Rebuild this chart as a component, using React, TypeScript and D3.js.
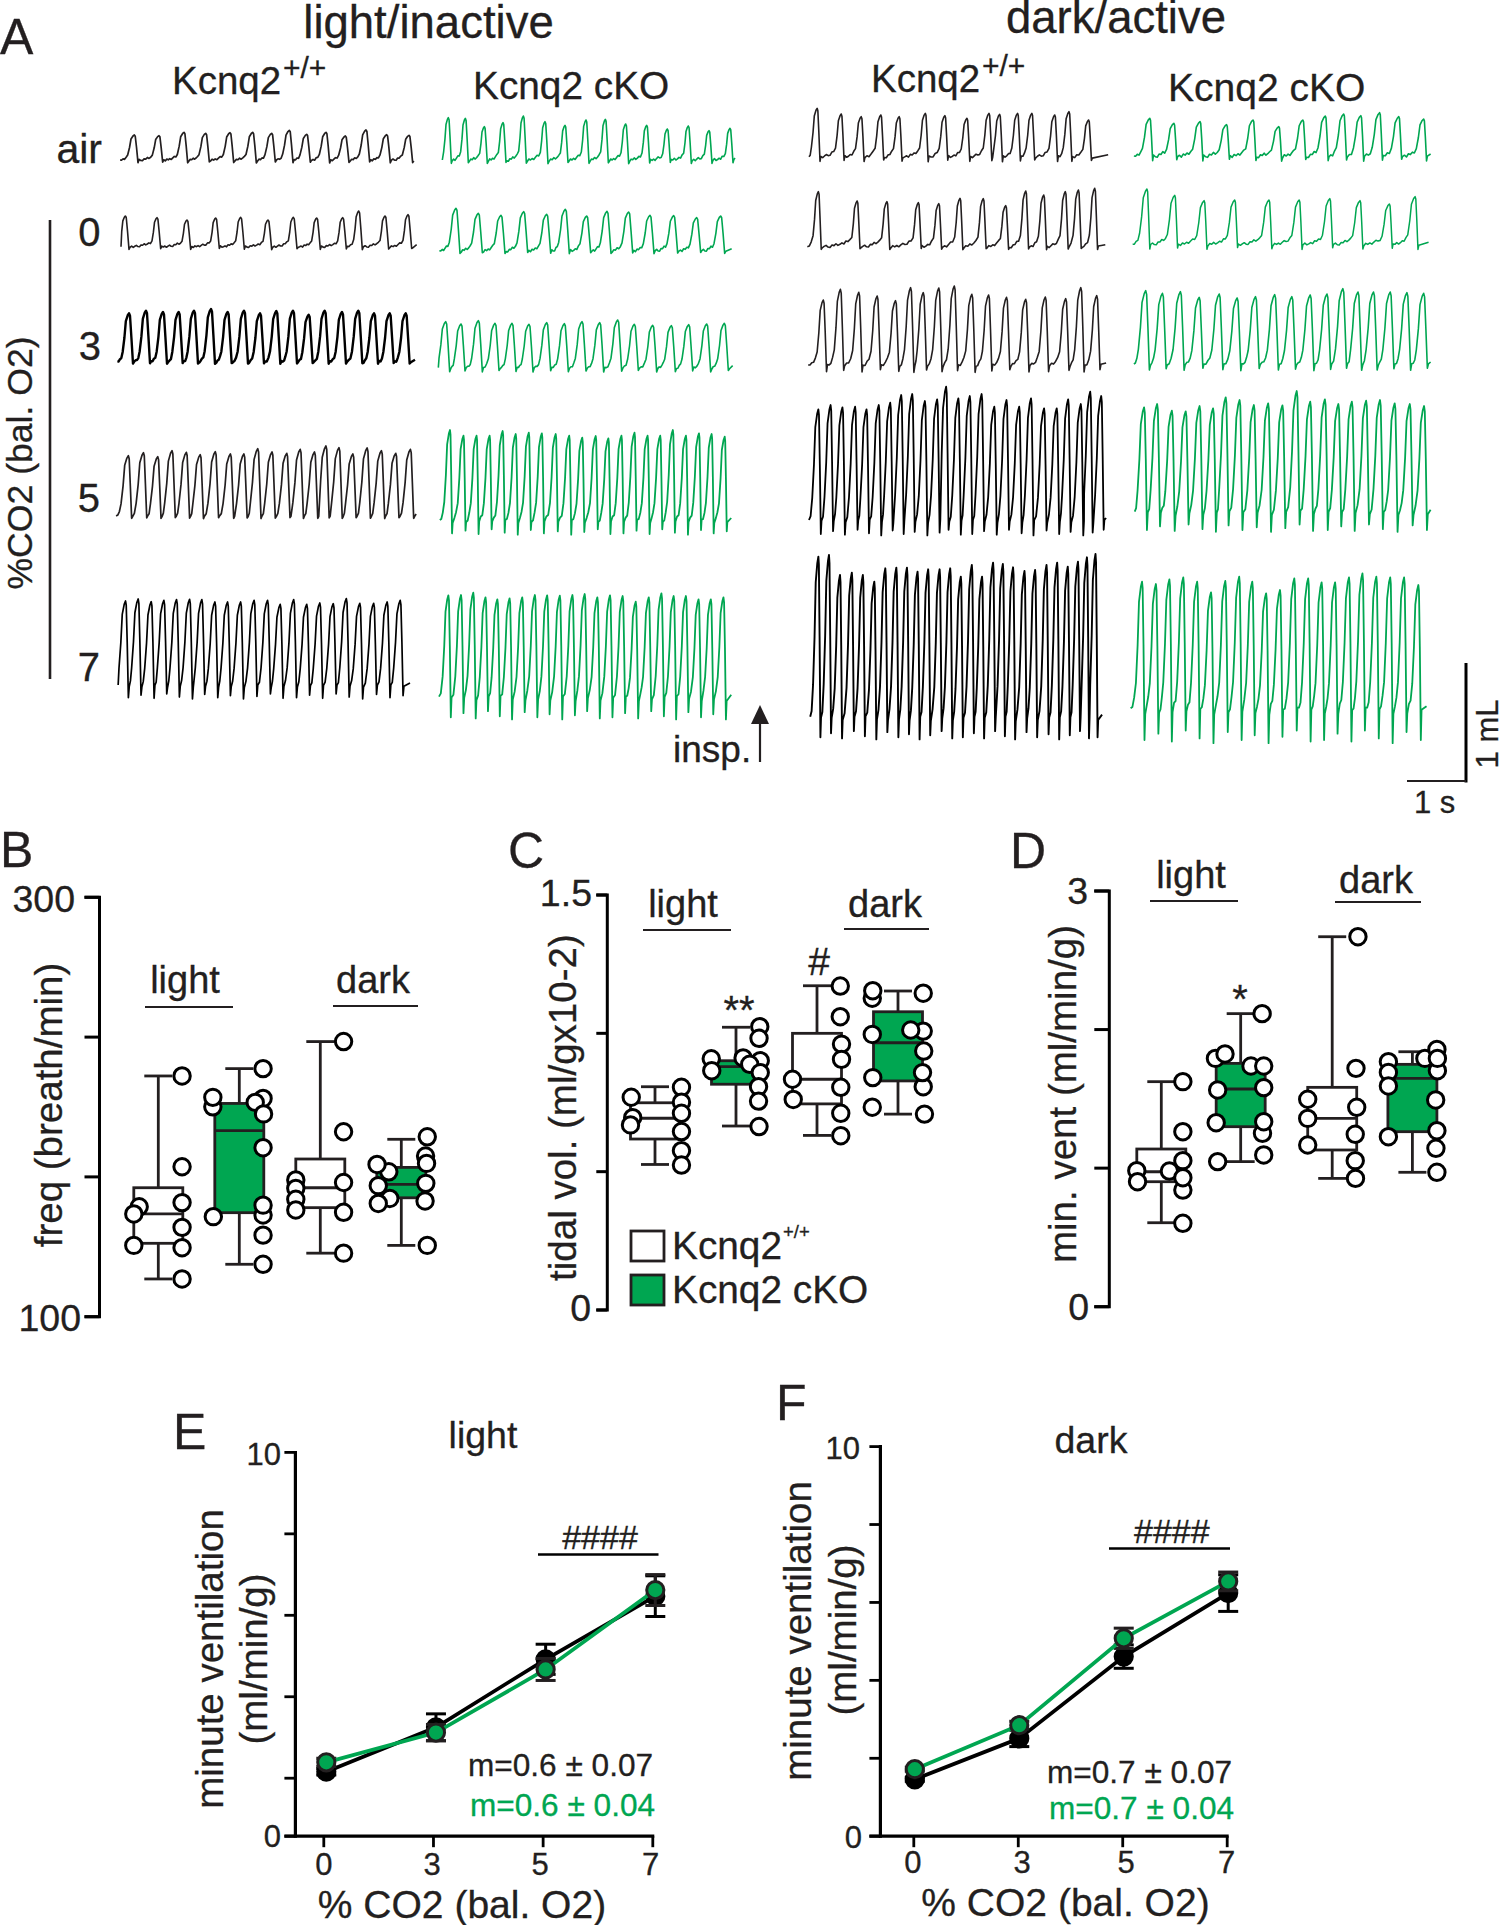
import React from 'react';
import * as d3 from 'd3';

const INK = '#231F20';
const GREEN = '#00A651';
const FONT = '"Liberation Sans", Arial, sans-serif';

/* ---------- Panel A: breathing traces, peak times and peak levels ---------- */
const lwAirT = [73,147,222,287,360,428,485,538,590,648,706,768,830,897];
const lwAirY = [105,107,97,100,98,97,100,91,103,97,108,90,104,106];
const lw0T = [46,141,231,317,392,474,550,620,698,746,825,894];
const lw0Y = [348,353,360,354,352,360,352,354,353,333,348,344];
const lw3T = [57,108,159,206,252,303,353,402,450,499,549,596,644,696,745,792,839,887];
const lw3Y = [640,632,636,636,632,627,636,632,640,633,632,644,632,636,632,640,640,640];
const lkAirT = [55,106,163,219,280,345,405,468,526,587,650,712,775,837,900];
const lkAirY = [53,55,80,68,48,65,76,60,58,72,76,87,78,92,85];
const lk0T = [78,145,213,281,350,406,470,531,596,660,731,800,872];
const lk0Y = [325,340,346,335,343,328,348,334,336,346,347,353,348];
const lk3T = [47,93,145,195,246,297,350,403,456,509,563,613,668,724,776,830,883];
const lk3Y = [665,672,662,670,670,673,668,671,665,668,660,673,676,677,674,672,670];
const lw5T = [45,82,117,152,187,221,258,295,328,362,397,433,466,501,529,561,595,630,665,700,736];
const lw5Y = [107,98,110,92,97,104,95,102,102,86,96,100,88,96,78,83,102,84,92,100,88];
const lk5T = [833,866,898,930,962,994,1026,1058,1092,1125,1157,1190,1221,1253,1285,1317,1348,1379,1411,1443,1474,1506];
const lk5Y = [30,47,47,47,33,42,38,40,42,47,53,48,55,47,38,47,47,30,47,40,42,50];
const lw7T = [38,69,101,132,163,195,225,257,288,320,353,386,417,450,482,514,547,579,612,646,679,711];
const lw7Y = [543,537,545,541,539,538,539,546,546,546,541,541,553,539,553,549,551,536,550,550,546,541];
const lk7T = [829,860,890,920,949,979,1010,1041,1071,1102,1133,1163,1194,1225,1256,1288,1320,1351,1381,1411,1442,1472,1503];
const lk7Y = [526,525,518,532,538,535,532,525,526,527,525,522,532,526,528,545,532,520,528,528,538,538,532];
const dwAirT = [42,101,150,198,243,307,355,409,463,489,533,568,624,659,707];
const dwAirY = [55,72,80,75,80,70,77,85,70,73,70,70,75,65,90];
const dkAirT = [857,916,980,1045,1110,1173,1232,1287,1332,1374,1420,1467,1528];
const dkAirY = [85,100,95,104,90,110,90,78,72,77,68,80,87];
const dw0T = [45,140,213,290,340,392,449,504,553,597,650,682,722];
const dw0Y = [305,333,335,338,341,325,326,347,303,315,305,300,295];
const dk0T = [850,918,990,1065,1149,1223,1298,1372,1444,1507];
const dk0Y = [297,316,332,330,330,330,326,332,342,320];
const dw3T = [57,99,144,189,234,271,302,340,378,421,462,506,553,601,651,688,727];
const dw3Y = [630,598,607,618,632,593,608,594,588,613,615,622,628,621,626,593,617];
const dk3T = [847,888,932,978,1027,1071,1116,1163,1205,1250,1291,1330,1367,1405,1446,1487,1528];
const dk3Y = [602,610,605,622,612,624,620,614,620,615,612,596,606,606,606,608,610];
const dw5T = [45,75,104,135,163,193,221,248,275,306,336,358,388,416,445,476,506,537,566,598,629,657,688,711,738];
const dw5Y = [88,75,82,80,88,75,68,45,42,63,58,20,55,48,42,80,60,80,55,85,85,58,72,35,48];
const dk5T = [843,875,911,945,979,1012,1043,1077,1112,1147,1182,1217,1250,1286,1319,1352,1387,1421,1457,1494,1529];
const dk5Y = [82,72,92,94,78,85,52,60,75,70,76,33,65,58,72,65,62,60,70,72,78];
const dw7T = [45,71,98,127,154,182,209,236,262,288,314,342,368,394,421,446,473,497,522,550,576,604,630,656,681,703,724];
const dw7Y = [530,525,585,578,585,605,565,563,563,575,568,568,565,590,555,590,548,552,562,573,570,555,548,560,545,532,522];
const dk7T = [838,872,905,939,973,1007,1042,1076,1108,1142,1176,1211,1245,1278,1311,1345,1378,1412,1446,1480,1515];
const dk7Y = [605,612,598,592,605,637,603,590,605,640,630,595,595,607,607,592,580,590,592,592,615];

// small wobble of the resting part of each breath
const ripple = [0.3,-0.5,0.8,-0.2,-0.9,0.5,1,-0.6,0.1,-1,0.6,0.2,-0.4,0.9,-0.7];
// variation of expiratory spike depth from breath to breath
const spikeScale = [1,0.8,1.05,0.7,0.95,1.1,0.75,1,0.85,1.1,0.9,0.7,1.05];

const frames: any = {
  lw: { x: 110, y: 100, w: 320, h: 310, sx: 3, sy: 3 },
  lk: { x: 430, y: 100, w: 320, h: 310, sx: 3, sy: 3 },
  ll: { x: 110, y: 420, w: 640, h: 360, sx: 2.45, sy: 3 },
  du: { x: 800, y: 90, w: 640, h: 300, sx: 2.45, sy: 3 },
  dl: { x: 800, y: 380, w: 640, h: 380, sx: 2.45, sy: 3 },
};

// f, T, Y, start, end, base, spike, rise, fall, wobble, colour, width
const traceRows: any[] = [
  ['lw', lwAirT, lwAirY, 30, 910, 180, 8, 20, 11, 3, INK, 1.7],
  ['lw', lw0T, lw0Y, 33, 920, 440, 8, 15, 11, 3, INK, 1.6],
  ['lw', lw3T, lw3Y, 22, 915, 785, 6, 19, 12, 3, '#000', 2.4],
  ['lk', lkAirT, lkAirY, 37, 915, 180, 10, 14, 9, 4, GREEN, 1.6],
  ['lk', lk0T, lk0Y, 28, 905, 452, 8, 20, 12, 4, GREEN, 1.6],
  ['lk', lk3T, lk3Y, 25, 908, 803, 12, 20, 12, 3, GREEN, 1.6],
  ['ll', lw5T, lw5Y, 15, 750, 288, 7, 18, 8, 1, INK, 1.7],
  ['ll', lk5T, lk5Y, 808, 1522, 300, 40, 14, 5, 6, GREEN, 1.8],
  ['ll', lw7T, lw7Y, 20, 735, 795, 38, 16, 7, 4, '#000', 1.7],
  ['ll', lk7T, lk7Y, 806, 1522, 830, 62, 14, 6, 8, GREEN, 1.8],
  ['du', dwAirT, dwAirY, 22, 755, 200, 14, 14, 7, 4, INK, 1.6],
  ['du', dkAirT, dkAirY, 818, 1545, 198, 14, 18, 7, 5, GREEN, 1.6],
  ['du', dw0T, dw0Y, 18, 748, 470, 8, 13, 7, 4, INK, 1.6],
  ['du', dk0T, dk0Y, 815, 1540, 463, 14, 18, 7, 4, GREEN, 1.5],
  ['du', dw3T, dw3Y, 20, 750, 825, 20, 15, 8, 4, INK, 1.6],
  ['du', dk3T, dk3Y, 818, 1545, 822, 18, 18, 9, 3, GREEN, 1.6],
  ['dl', dw5T, dw5Y, 22, 750, 420, 42, 15, 6, 5, '#000', 1.8],
  ['dl', dk5T, dk5Y, 820, 1545, 395, 55, 16, 7, 7, GREEN, 1.8],
  ['dl', dw7T, dw7Y, 25, 740, 1010, 62, 13, 5, 7, '#000', 1.9],
  ['dl', dk7T, dk7Y, 810, 1535, 985, 95, 15, 6, 10, GREEN, 1.8],
];

function breathPoints(T: number[], Y: number[], start: number, end: number, base: number, spike: number, rise: number, fall: number, wob: number) {
  const pts: [number, number][] = [];
  const push = (t: number, y: number) => {
    if (!pts.length || t > pts[pts.length - 1][0]) pts.push([t, y]);
  };
  push(start, base);
  let rk = 0;
  T.forEach((t, i) => {
    const amp = base - Y[i];
    const from = pts[pts.length - 1][0];
    const to = t - rise;
    const steps = Math.max(0, Math.floor((to - from) / 5));
    for (let j = 1; j <= steps; j++) {
      const f = j / (steps + 1);
      push(from + (to - from) * f, base - amp * 0.16 * f * f + ripple[rk++ % ripple.length] * wob);
    }
    push(to, base - amp * 0.2);
    push(t - rise * 0.72, base - amp * 0.5);
    push(t - rise * 0.5, base - amp * 0.84);
    push(t - rise * 0.2, base - amp * 0.96);
    push(t, Y[i]);
    push(t + fall * 0.25, Y[i] + amp * 0.05);
    push(t + fall * 0.6, base - amp * 0.5);
    const s = spike * spikeScale[i % spikeScale.length];
    push(t + fall, base + s);
    push(t + fall * 1.3, base + s * 0.1 + ripple[rk++ % ripple.length] * wob);
  });
  push(end, base - 6);
  return pts;
}

/* ---------- Panels B, C, D: box statistics [min, q1, median, q3, max] and dots [side, value] ---------- */
const freqStats = [
  [118, 135, 149, 161.5, 214.8],
  [125, 149.6, 188.7, 201.7, 218.3],
  [130.3, 152, 161.5, 175.2, 231.2],
  [134, 156.7, 163.1, 171.2, 184.6],
];
const freqDots: [number, number][][] = [
  [[-0.78,152.4],[-1,149],[-1,134],[0.97,214.8],[0.97,171.5],[0.97,154.4],[0.97,142.6],[0.97,132.9],[0.97,118]],
  [[-1.08,200.1],[-1.08,204.6],[-1.06,147.7],[0.97,204.1],[0.65,202.2],[0.99,196.7],[0.97,180.6],[0.97,148.5],[0.97,153.2],[0.97,138.9],[0.97,125],[0.97,218.3]],
  [[-1,165.2],[-1,161.2],[-1,156],[-1,150.9],[0.95,231.2],[0.95,188.2],[0.95,164],[0.95,149.8],[0.95,130.3]],
  [[-0.51,169.1],[-0.99,172.6],[-0.47,156.4],[-0.94,162.5],[-0.94,154],[0.99,176.6],[1.06,185.8],[1.03,173.1],[1,163.6],[0.97,155.2],[1.06,134]],
];
const tidalStats = [
  [0.526, 0.618, 0.693, 0.749, 0.807],
  [0.665, 0.816, 0.88, 0.901, 1.022],
  [0.631, 0.745, 0.834, 1.0, 1.172],
  [0.708, 0.828, 0.966, 1.078, 1.153],
];
const tidalDots: [number, number][][] = [
  [[-0.91,0.695],[-0.97,0.769],[-1,0.669],[1.08,0.805],[1.08,0.751],[1.08,0.711],[1.08,0.645],[1.08,0.576],[1.08,0.524]],
  [[-1.01,0.908],[-0.99,0.865],[0.29,0.911],[0.99,0.901],[0.56,0.888],[0.97,1.024],[0.94,0.982],[0.99,0.858],[0.92,0.807],[0.92,0.755],[0.94,0.663]],
  [[-1,0.834],[-0.97,0.761],[0.95,1.171],[0.95,1.06],[1,0.961],[1,0.906],[0.97,0.805],[0.97,0.711],[0.97,0.63]],
  [[-1.05,1.127],[-1.03,1.154],[-1.05,0.996],[-1.03,0.84],[-1.05,0.733],[1.03,1.008],[0.52,1.012],[1.03,1.145],[1.05,0.936],[1.03,0.807],[1,0.858],[1.08,0.708]],
];
const ventStats = [
  [0.606, 0.902, 0.974, 1.138, 1.624],
  [1.047, 1.299, 1.571, 1.756, 2.115],
  [0.926, 1.131, 1.359, 1.583, 2.67],
  [0.97, 1.263, 1.648, 1.749, 1.84],
];
const ventDots: [number, number][][] = [
  [[-1,0.982],[-0.97,0.902],[0.33,0.979],[0.88,1.624],[0.88,1.263],[0.88,0.842],[0.88,1.054],[0.88,0.931],[0.88,0.602]],
  [[-1.03,1.792],[-0.64,1.824],[0.42,1.737],[0.94,1.737],[-0.94,1.564],[0.94,1.581],[0.89,1.251],[-1,1.328],[0.94,1.335],[0.94,1.095],[-0.94,1.047],[0.875,2.115]],
  [[-1,1.497],[-1,1.359],[-1,1.167],[1.05,2.67],[0.97,1.72],[1,1.439],[0.94,1.244],[0.94,1.054],[0.95,0.926]],
  [[-0.98,1.768],[-0.98,1.691],[-0.98,1.593],[-0.98,1.227],[0.51,1.792],[1,1.857],[1.02,1.703],[1.02,1.792],[0.95,1.492],[1,1.27],[0.96,1.143],[1,0.97]],
];
const boxFills = ['#fff', GREEN, '#fff', GREEN];
const evenGroups = [0, 1, 2, 3];
const ventGroups = [0, 0.98, 2.11, 3.1];
const freqTicks = [100, 166.67, 233.33, 300];
const tidalTicks = [0, 0.5, 1, 1.5];
const ventTicks = [0, 1, 2, 3];

/* ---------- Panels E, F: means and error bars ---------- */
const co2Levels = ['0', '3', '5', '7'];
const lightWtMean = [2.16, 3.25, 4.92, 6.47];
const lightWtErr = [0.08, 0.33, 0.37, 0.5];
const lightKoMean = [2.39, 3.12, 4.67, 6.62];
const lightKoErr = [0.1, 0.2, 0.27, 0.38];
const darkWtMean = [1.46, 2.51, 4.61, 6.24];
const darkWtErr = [0.05, 0.21, 0.3, 0.47];
const darkKoMean = [1.72, 2.85, 5.08, 6.54];
const darkKoErr = [0.05, 0.1, 0.26, 0.24];
const ventTicksLine = [0, 2, 4, 6, 8, 10];

const T = ({ x, y, s = 38, a = 'start', c = INK, children }: any) => (
  <text x={x} y={y} fontSize={s} textAnchor={a} fill={c} stroke={c} strokeWidth={0.3} fontFamily={FONT}>{children}</text>
);
const V = ({ x, y, s = 38.5, children }: any) => (
  <text transform={`translate(${x},${y}) rotate(-90)`} fontSize={s} textAnchor="middle" fill={INK} stroke={INK} strokeWidth={0.3} fontFamily={FONT}>{children}</text>
);
const L = ({ x1, y1, x2, y2, w = 2.4, c = INK }: any) => (
  <line x1={x1} y1={y1} x2={x2} y2={y2} stroke={c} strokeWidth={w} />
);

function Traces() {
  return (
    <g fill="none" strokeLinejoin="round">
      {traceRows.map((r, i) => {
        const [f, tt, yy, start, end, base, spike, rise, fall, wob, colour, width] = r;
        const fr = frames[f];
        const sx = d3.scaleLinear().domain([0, fr.w * fr.sx]).range([fr.x, fr.x + fr.w]);
        const sy = d3.scaleLinear().domain([0, fr.h * fr.sy]).range([fr.y, fr.y + fr.h]);
        const line = d3.line<[number, number]>().x((d) => sx(d[0])).y((d) => sy(d[1]));
        return <path key={i} d={line(breathPoints(tt, yy, start, end, base, spike, rise, fall, wob)) || ''} stroke={colour} strokeWidth={width} />;
      })}
    </g>
  );
}

function BoxPanel({ stats, dots, groups, axisX, top, bottom, domain, ticks, x0, tickLen }: any) {
  const y = d3.scaleLinear().domain(domain).range([bottom, top]);
  const gx = d3.scaleLinear().domain([0, 3]).range([x0, x0 + 243]);
  const side = d3.scaleLinear().domain([-1, 1]).range([-24.5, 24.5]);
  return (
    <g>
      <path d={`M${axisX - tickLen},${top}H${axisX}V${bottom}H${axisX - tickLen}`} fill="none" stroke="#000" strokeWidth={3} />
      {ticks.map((t: number) => <L key={t} x1={axisX - tickLen} x2={axisX} y1={y(t)} y2={y(t)} w={3} c="#000" />)}
      {stats.map((s: number[], i: number) => {
        const cx = gx(groups[i]);
        return (
          <g key={i} stroke={INK} strokeWidth={2.8}>
            <line x1={cx} x2={cx} y1={y(s[4])} y2={y(s[0])} />
            <line x1={cx - 14} x2={cx + 14} y1={y(s[4])} y2={y(s[4])} />
            <line x1={cx - 14} x2={cx + 14} y1={y(s[0])} y2={y(s[0])} />
            <rect x={cx - 24.5} width={49} y={y(s[3])} height={y(s[1]) - y(s[3])} fill={boxFills[i]} />
            <line x1={cx - 24.5} x2={cx + 24.5} y1={y(s[2])} y2={y(s[2])} />
          </g>
        );
      })}
      {dots.map((g: [number, number][], i: number) => g.map((d, j) => (
        <circle key={`${i}-${j}`} cx={gx(groups[i]) + side(d[0])} cy={y(d[1])} r={8.2} fill="#fff" stroke="#000" strokeWidth={3} />
      )))}
    </g>
  );
}

function LinePanel({ axisX, top, bottom, yScale, xr, wt, wtE, ko, koE, shift }: any) {
  const x = d3.scalePoint().domain(co2Levels).range(xr);
  const px = (i: number) => (x(co2Levels[i]) as number) + shift;
  const line = d3.line<number>().x((_, i) => px(i)).y((d) => yScale(d));
  const series = [
    { m: wt, e: wtE, c: '#000', dot: '#000' },
    { m: ko, e: koE, c: GREEN, dot: GREEN },
  ];
  return (
    <g>
      <L x1={axisX} x2={axisX} y1={top - 1.5} y2={bottom + 1.5} w={3.2} c="#000" />
      <L x1={axisX - 11} x2={xr[1] + 1.5} y1={bottom} y2={bottom} w={3.2} c="#000" />
      {ventTicksLine.map((t) => <L key={t} x1={axisX - 11} x2={axisX} y1={yScale(t)} y2={yScale(t)} w={2.8} c="#000" />)}
      {co2Levels.map((c) => <L key={c} x1={x(c)} x2={x(c)} y1={bottom} y2={bottom + 11} w={2.8} c="#000" />)}
      {series.map((s, k) => (
        <g key={k}>
          {s.m.map((v: number, i: number) => (
            <g key={i} stroke={k ? INK : '#000'} strokeWidth={3}>
              <line x1={px(i)} x2={px(i)} y1={yScale(v + s.e[i])} y2={yScale(v - s.e[i])} />
              <line x1={px(i) - 10} x2={px(i) + 10} y1={yScale(v + s.e[i])} y2={yScale(v + s.e[i])} />
              <line x1={px(i) - 10} x2={px(i) + 10} y1={yScale(v - s.e[i])} y2={yScale(v - s.e[i])} />
            </g>
          ))}
          <path d={line(s.m) || ''} fill="none" stroke={s.c} strokeWidth={3.8} />
          {s.m.map((v: number, i: number) => (
            <circle key={i} cx={px(i)} cy={yScale(v)} r={8.6} fill={s.dot} stroke={k ? INK : '#000'} strokeWidth={3} />
          ))}
        </g>
      ))}
    </g>
  );
}

export default function App() {
  const yE = d3.scaleLinear().domain([0, 2, 10]).range([1836.2, 1778.2, 1452.4]);
  const yF = d3.scaleLinear().domain([0, 10]).range([1836.2, 1446.6]);
  return (
    <svg width={1500} height={1925} viewBox="0 0 1500 1925" style={{ position: 'absolute', left: 0, top: 0, display: 'block', background: '#fff' }}>
      {/* Panel A */}
      <T x={0} y={54} s={50}>A</T>
      <T x={428.5} y={38} s={45.5} a="middle">light/inactive</T>
      <T x={1116} y={33} s={45.5} a="middle">dark/active</T>
      <T x={172} y={94} s={38.5}>Kcnq2</T>
      <T x={283} y={78} s={30}>+/+</T>
      <T x={473} y={99} s={38.8}>Kcnq2 cKO</T>
      <T x={871} y={92} s={38.5}>Kcnq2</T>
      <T x={982} y={76} s={30}>+/+</T>
      <T x={1168} y={101} s={39}>Kcnq2 cKO</T>
      <T x={102} y={163} s={41} a="end">air</T>
      <T x={100.5} y={246} s={40} a="end">0</T>
      <T x={101} y={360} s={40} a="end">3</T>
      <T x={100} y={512} s={40} a="end">5</T>
      <T x={100} y={681} s={40} a="end">7</T>
      <L x1={50} x2={50} y1={220} y2={679} w={2.6} />
      <V x={32} y={463} s={35.6}>%CO2 (bal. O2)</V>
      <Traces />
      <T x={673} y={762} s={37}>insp.</T>
      <L x1={760} x2={760} y1={722} y2={762} w={2.2} />
      <path d={d3.line()([[760, 705], [769, 724], [751, 724]]) + 'Z'} fill={INK} />
      <L x1={1466} x2={1466} y1={663} y2={782.5} w={3} c="#000" />
      <L x1={1407} x2={1466} y1={781} y2={781} w={2} />
      <V x={1498} y={734} s={31}>1 mL</V>
      <T x={1414} y={813} s={31}>1 s</T>

      {/* Panel B */}
      <T x={0} y={867} s={50}>B</T>
      <T x={75} y={912} s={37.5} a="end">300</T>
      <T x={81} y={1331} s={37.5} a="end">100</T>
      <V x={61.7} y={1105}>freq (breath/min)</V>
      <BoxPanel stats={freqStats} dots={freqDots} groups={evenGroups} axisX={99.5} top={897.3} bottom={1316.7} domain={[100, 300]} ticks={freqTicks} x0={158.3} tickLen={15} />
      <T x={185} y={993} a="middle">light</T>
      <L x1={145} x2={233} y1={1007} y2={1007} w={2} />
      <T x={373} y={993} a="middle">dark</T>
      <L x1={333} x2={418} y1={1006} y2={1006} w={2} />

      {/* Panel C */}
      <T x={508} y={868} s={50}>C</T>
      <T x={592} y={906} s={37.5} a="end">1.5</T>
      <T x={591} y={1321} s={37.5} a="end">0</T>
      <V x={576} y={1107.6}>tidal vol. (ml/gx10-2)</V>
      <BoxPanel stats={tidalStats} dots={tidalDots} groups={evenGroups} axisX={607.3} top={895} bottom={1310} domain={[0, 1.5]} ticks={tidalTicks} x0={655} tickLen={11} />
      <T x={683} y={917} a="middle">light</T>
      <L x1={643} x2={731} y1={930} y2={930} w={2} />
      <T x={885} y={917} a="middle">dark</T>
      <L x1={844} x2={929} y1={929} y2={929} w={2} />
      <T x={739} y={1024} s={40} a="middle">**</T>
      <T x={819} y={975} s={39} a="middle">#</T>
      <rect x={631} y={1231} width={33} height={30} fill="#fff" stroke={INK} strokeWidth={2.8} />
      <rect x={631} y={1275} width={33} height={30} fill={GREEN} stroke={INK} strokeWidth={2.8} />
      <T x={672} y={1259} s={38.8}>Kcnq2</T>
      <T x={783} y={1238} s={18.5}>+/+</T>
      <T x={672} y={1303} s={38.8}>Kcnq2 cKO</T>

      {/* Panel D */}
      <T x={1010} y={868} s={50}>D</T>
      <T x={1088} y={904} s={37.5} a="end">3</T>
      <T x={1089} y={1320} s={37.5} a="end">0</T>
      <V x={1076} y={1094}>min. vent (ml/min/g)</V>
      <BoxPanel stats={ventStats} dots={ventDots} groups={ventGroups} axisX={1109.3} top={891} bottom={1306.7} domain={[0, 3]} ticks={ventTicks} x0={1161.3} tickLen={15} />
      <T x={1191} y={888} a="middle">light</T>
      <L x1={1150} x2={1238} y1={901} y2={901} w={2} />
      <T x={1376} y={893} a="middle">dark</T>
      <L x1={1335} x2={1421} y1={902} y2={902} w={2} />
      <T x={1240} y={1013} s={40} a="middle">*</T>

      {/* Panel E */}
      <T x={173} y={1449} s={50}>E</T>
      <T x={281} y={1465} s={31} a="end">10</T>
      <T x={281} y={1847} s={31} a="end">0</T>
      <V x={223} y={1659} s={38.5}>minute ventilation</V>
      <V x={267} y={1659} s={38.5}>(ml/min/g)</V>
      <T x={483} y={1448} a="middle" s={37.5}>light</T>
      <LinePanel axisX={295.4} top={1452.4} bottom={1836.2} yScale={yE} xr={[323.8, 652.8]} wt={lightWtMean} wtE={lightWtErr} ko={lightKoMean} koE={lightKoErr} shift={2.5} />
      <T x={600} y={1548.5} s={34} a="middle">####</T>
      <L x1={538} x2={658.5} y1={1554.5} y2={1554.5} w={2.4} c="#000" />
      <T x={468} y={1776} s={31.6}>m=0.6 ± 0.07</T>
      <T x={470} y={1815.5} s={31.6} c={GREEN}>m=0.6 ± 0.04</T>
      {co2Levels.map((c, i) => <T key={c} x={[323.8, 432, 540, 650.7][i]} y={1874.5} s={31} a="middle">{c}</T>)}
      <T x={462} y={1917.5} s={39} a="middle">% CO2 (bal. O2)</T>

      {/* Panel F */}
      <T x={776} y={1420} s={50}>F</T>
      <T x={860} y={1459} s={31} a="end">10</T>
      <T x={862} y={1848} s={31} a="end">0</T>
      <V x={811.4} y={1631} s={38.5}>minute ventilation</V>
      <V x={855.7} y={1630} s={38.5}>(ml/min/g)</V>
      <T x={1091} y={1453.3} a="middle" s={37.5}>dark</T>
      <LinePanel axisX={880.4} top={1446.6} bottom={1836.2} yScale={yF} xr={[913.8, 1227.2]} wt={darkWtMean} wtE={darkWtErr} ko={darkKoMean} koE={darkKoErr} shift={1} />
      <T x={1171.8} y={1542.5} s={34} a="middle">####</T>
      <L x1={1109} x2={1230} y1={1548.5} y2={1548.5} w={2.4} c="#000" />
      <T x={1047} y={1783} s={31.6}>m=0.7 ± 0.07</T>
      <T x={1049} y={1819} s={31.6} c={GREEN}>m=0.7 ± 0.04</T>
      {co2Levels.map((c, i) => <T key={c} x={[912.8, 1022, 1126, 1226.5][i]} y={1873} s={31} a="middle">{c}</T>)}
      <T x={1065.5} y={1915.5} s={39} a="middle">% CO2 (bal. O2)</T>
    </svg>
  );
}
